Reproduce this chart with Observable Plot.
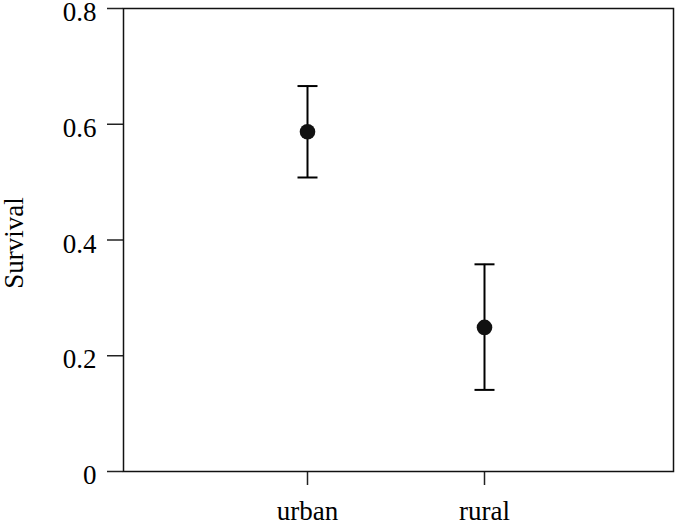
<!DOCTYPE html>
<html>
<head>
<meta charset="utf-8">
<script src="https://cdn.jsdelivr.net/npm/d3@7"></script>
<script src="https://cdn.jsdelivr.net/npm/@observablehq/plot@0.6"></script>
<style>
  html, body { margin: 0; padding: 0; background: #fff; }
  #chart svg, #chart svg text { font-family: "Liberation Serif", "Times New Roman", serif !important; }
</style>
</head>
<body>
<div id="chart"></div>
<script>
const categories = ["urban", "rural"];
const means = [0.587, 0.249];
const lowers = [0.508, 0.141];
const uppers = [0.666, 0.358];
const yTicks = [0, 0.2, 0.4, 0.6, 0.8];
const yLabel = "Survival";

const data = categories.map((c, i) => ({group: c, mean: means[i], lower: lowers[i], upper: uppers[i]}));

// horizontal-line symbol for error-bar caps
const capSymbol = {
  draw(context, size) {
    const r = Math.sqrt(size / Math.PI);
    context.moveTo(-r, 0);
    context.lineTo(r, 0);
  }
};

const font = '"Liberation Serif", "Times New Roman", serif';
const fmt = d => d === 0 ? "0" : d3.format(".1f")(d);

const chart = Plot.plot({
  width: 675,
  height: 526,
  marginLeft: 123,
  marginRight: 2,
  marginTop: 8,
  marginBottom: 55,
  style: {fontFamily: font, fontSize: "26px", color: "#000", background: "#fff"},
  x: {type: "point", domain: categories, padding: 1.045, align: 0.492, axis: null},
  y: {domain: [0, 0.8], axis: null},
  marks: [
    // y tick lines
    Plot.axisY({
      ticks: yTicks,
      tickSize: 16,
      tickFormat: () => "",
      stroke: "#222",
      strokeWidth: 1.5,
      label: null
    }),
    // y tick labels (nudged slightly down, as in the reference)
    Plot.axisY({
      ticks: yTicks,
      tickSize: 0,
      tickPadding: 27,
      tickFormat: fmt,
      fontSize: 27,
      fontFamily: font,
      dy: 4,
      label: null
    }),
    Plot.axisX({
      tickSize: 14,
      tickPadding: 15,
      fontSize: 27,
      fontFamily: font,
      stroke: "#222",
      strokeWidth: 1.5,
      label: null
    }),
    Plot.frame({stroke: "#111", strokeWidth: 1.5}),
    Plot.ruleX(data, {x: "group", y1: "lower", y2: "upper", stroke: "#000", strokeWidth: 2}),
    Plot.dot(data, {x: "group", y: "upper", symbol: capSymbol, r: 10, stroke: "#000", strokeWidth: 2, fill: "none"}),
    Plot.dot(data, {x: "group", y: "lower", symbol: capSymbol, r: 10, stroke: "#000", strokeWidth: 2, fill: "none"}),
    Plot.dot(data, {x: "group", y: "mean", r: 7.8, fill: "#111", stroke: "none"}),
    Plot.text([yLabel], {frameAnchor: "left", textAnchor: "middle", lineAnchor: "middle", dx: -109, dy: 3, rotate: -90, text: d => d, fontSize: 27, fontFamily: font, fill: "#000"})
  ]
});

document.getElementById("chart").appendChild(chart);
</script>
</body>
</html>
